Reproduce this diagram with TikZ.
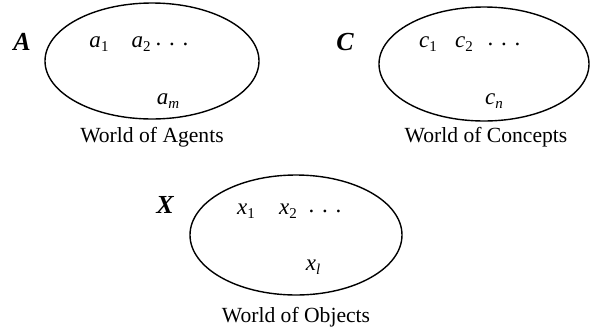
\documentclass[tikz,border=0pt]{standalone}
\usepackage{fontspec}
\setmainfont{Liberation Serif}
\usetikzlibrary{positioning}

\tikzset{
  world/.style={draw, line width=0.7pt},
  elem/.style={font=\fontsize{11.5}{13}\selectfont\itshape, inner sep=0pt},
  caption/.style={font=\fontsize{10.8}{13}\selectfont, inner sep=0pt},
  setname/.style={font=\fontsize{13}{15}\selectfont\bfseries\itshape, inner sep=0pt}
}
\newcommand{\sub}[1]{\raisebox{-0.35ex}{\fontsize{7.5}{8}\selectfont #1}}

\begin{document}
\begin{tikzpicture}[x=0.5pt, y=-0.5pt]
	% Bounding box dimensions
	\useasboundingbox (0,0) rectangle (590,333);
	
	% World of Agents
	\draw[world] (152,61) ellipse [x radius=53.5pt, y radius=29pt];
	\node[setname] (A) at (22,42) {A};
	\node[elem] (a1) at (99,44) {a\sub{\upshape 1}};
	\node[elem] (a2) at (141,44) {a\sub{\upshape 2}};
	\node[elem] (adots) at (172,44) {\upshape .\,\,.\,\,.};
	\node[elem] (am) at (168,101) {a\sub{m}};
	\node[caption] (agents) at (152,137) {World of Agents};
	
	% World of Concepts
	\draw[world] (484,64) ellipse [x radius=52.5pt, y radius=28.5pt];
	\node[setname] (C) at (345,42) {C};
	\node[elem] (c1) at (428,44) {c\sub{\upshape 1}};
	\node[elem] (c2) at (464,44) {c\sub{\upshape 2}};
	\node[elem] (cdots) at (504,44) {\upshape .\,\,.\,\,.};
	\node[elem] (cn) at (494,101) {c\sub{n}};
	\node[caption] (concepts) at (486,137) {World of Concepts};
	
	% World of Objects
	\draw[world] (296,235) ellipse [x radius=53pt, y radius=30pt];
	\node[setname] (X) at (165,205) {X};
	\node[elem] (x1) at (246,211) {x\sub{\upshape 1}};
	\node[elem] (x2) at (288,211) {x\sub{\upshape 2}};
	\node[elem] (xdots) at (325,211) {\upshape .\,\,.\,\,.};
	\node[elem] (xl) at (313,267) {x\sub{l}};
	\node[caption] (objects) at (296,317) {World of Objects};
\end{tikzpicture}
\end{document}
